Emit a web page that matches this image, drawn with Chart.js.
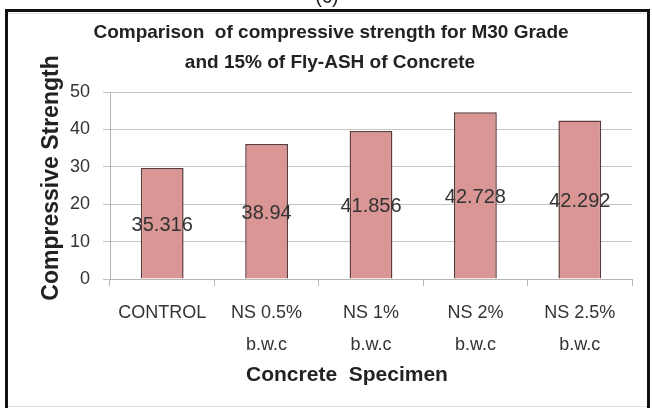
<!DOCTYPE html>
<html>
<head>
<meta charset="utf-8">
<script src="https://cdn.jsdelivr.net/npm/chart.js@4.4.1/dist/chart.umd.min.js"></script>
<style>
  html, body { margin: 0; padding: 0; background: #fff; }
  #wrap { position: relative; width: 652px; height: 408px; }
</style>
</head>
<body>
<div id="wrap"><canvas id="myChart" width="652" height="408"></canvas></div>
<script>
// categories on the x axis (two-line labels)
const specimens = [
    ['CONTROL'],
    ['NS 0.5%', 'b.w.c'],
    ['NS 1%', 'b.w.c'],
    ['NS 2%', 'b.w.c'],
    ['NS 2.5%', 'b.w.c'],
];

// bar heights as drawn
const strength = [29.7, 36.1, 39.6, 44.6, 42.4];

// numbers printed inside the bars
const barLabels = ['35.316', '38.94', '41.856', '42.728', '42.292'];

const yMin = 0;
const yMax = 50;
const yStep = 10;

const titleLines = [
    'Comparison  of compressive strength for M30 Grade',
    'and 15% of Fly-ASH of Concrete'
];
const yTitle = 'Compressive Strength';
const xTitle = 'Concrete  Specimen';

const FONT = '"Liberation Sans", Arial, sans-serif';

const decor = {
  id: 'decor',
  beforeDraw(chart) {
    const ctx = chart.ctx;
    ctx.save();
    ctx.fillStyle = '#fff';
    ctx.fillRect(0, 0, chart.width, chart.height);
    ctx.restore();
  },
  afterDraw(chart) {
    const ctx = chart.ctx;
    ctx.save();

    // cut-off caption above the box
    ctx.fillStyle = '#222';
    ctx.font = '20px ' + FONT;
    ctx.textAlign = 'center';
    ctx.textBaseline = 'alphabetic';
    ctx.fillText('(c)', 327, 3);

    // frame
    ctx.strokeStyle = '#e2e2e2';
    ctx.lineWidth = 1;
    ctx.beginPath();
    ctx.moveTo(6, 406.5); ctx.lineTo(648, 406.5);
    ctx.moveTo(8, 13.5); ctx.lineTo(646, 13.5);
    ctx.stroke();
    ctx.strokeStyle = '#111';
    ctx.lineWidth = 3;
    ctx.beginPath();
    ctx.moveTo(6.5, 408); ctx.lineTo(6.5, 10.5); ctx.lineTo(648.5, 10.5); ctx.lineTo(648.5, 408);
    ctx.stroke();

    // title
    ctx.fillStyle = '#222';
    ctx.font = 'bold 19px ' + FONT;
    ctx.textBaseline = 'middle';
    ctx.fillText(titleLines[0], 331, 33);
    ctx.fillText(titleLines[1], 330, 63);

    // axis titles
    ctx.font = 'bold 21px ' + FONT;
    ctx.fillText(xTitle, 347, 375);
    ctx.save();
    ctx.translate(52, 178);
    ctx.rotate(-Math.PI / 2);
    ctx.font = 'bold 23px ' + FONT;
    ctx.fillText(yTitle, 0, 0);
    ctx.restore();

    // labels in the middle of each bar
    const meta = chart.getDatasetMeta(0);
    ctx.fillStyle = '#333';
    ctx.font = '20px ' + FONT;
    meta.data.forEach((bar, i) => {
      const cy = (bar.y + bar.base) / 2 + 2;
      ctx.fillText(barLabels[i], bar.x, cy);
    });

    ctx.restore();
  }
};

const data = {
    labels: specimens,
    datasets: [{
        label: 'Compressive Strength',
        data: strength,
        backgroundColor: '#d99694',
        borderColor: '#5e3b3a',
        borderWidth: 1.5,
        barPercentage: 0.41,
        categoryPercentage: 1
    }]
};

const config = {
  type: 'bar',
  data: data,
  plugins: [decor],
  options: {
    responsive: false,
    animation: false,
    layout: {
      padding: { top: 92, left: 60, right: 20, bottom: 49 }
    },
    plugins: {
      legend: { display: false },
      title: { display: false },
      tooltip: { enabled: false }
    },
    scales: {
      x: {
        afterFit(scale) { scale.height = 80; },
        grid: {
          drawOnChartArea: false,
          drawTicks: true,
          offset: true,
          tickLength: 7,
          color: '#b5b5b5'
        },
        border: { color: '#b5b5b5', width: 1 },
        ticks: {
          color: '#333',
          padding: 11,
          maxRotation: 0,
          autoSkip: false,
          font: { family: FONT, size: 18, lineHeight: 32 / 18 }
        }
      },
      y: {
        min: yMin,
        max: yMax,
        afterFit(scale) { scale.width = 50; },
        grid: {
          color: '#c4c4c4',
          tickLength: 7,
          drawTicks: true
        },
        border: { color: '#b5b5b5', width: 1 },
        ticks: {
          stepSize: yStep,
          color: '#333',
          padding: 13,
          font: { family: FONT, size: 18 }
        }
      }
    }
  }
};

const myChart = new Chart(
    document.getElementById('myChart'),
    config
);
</script>
</body>
</html>
